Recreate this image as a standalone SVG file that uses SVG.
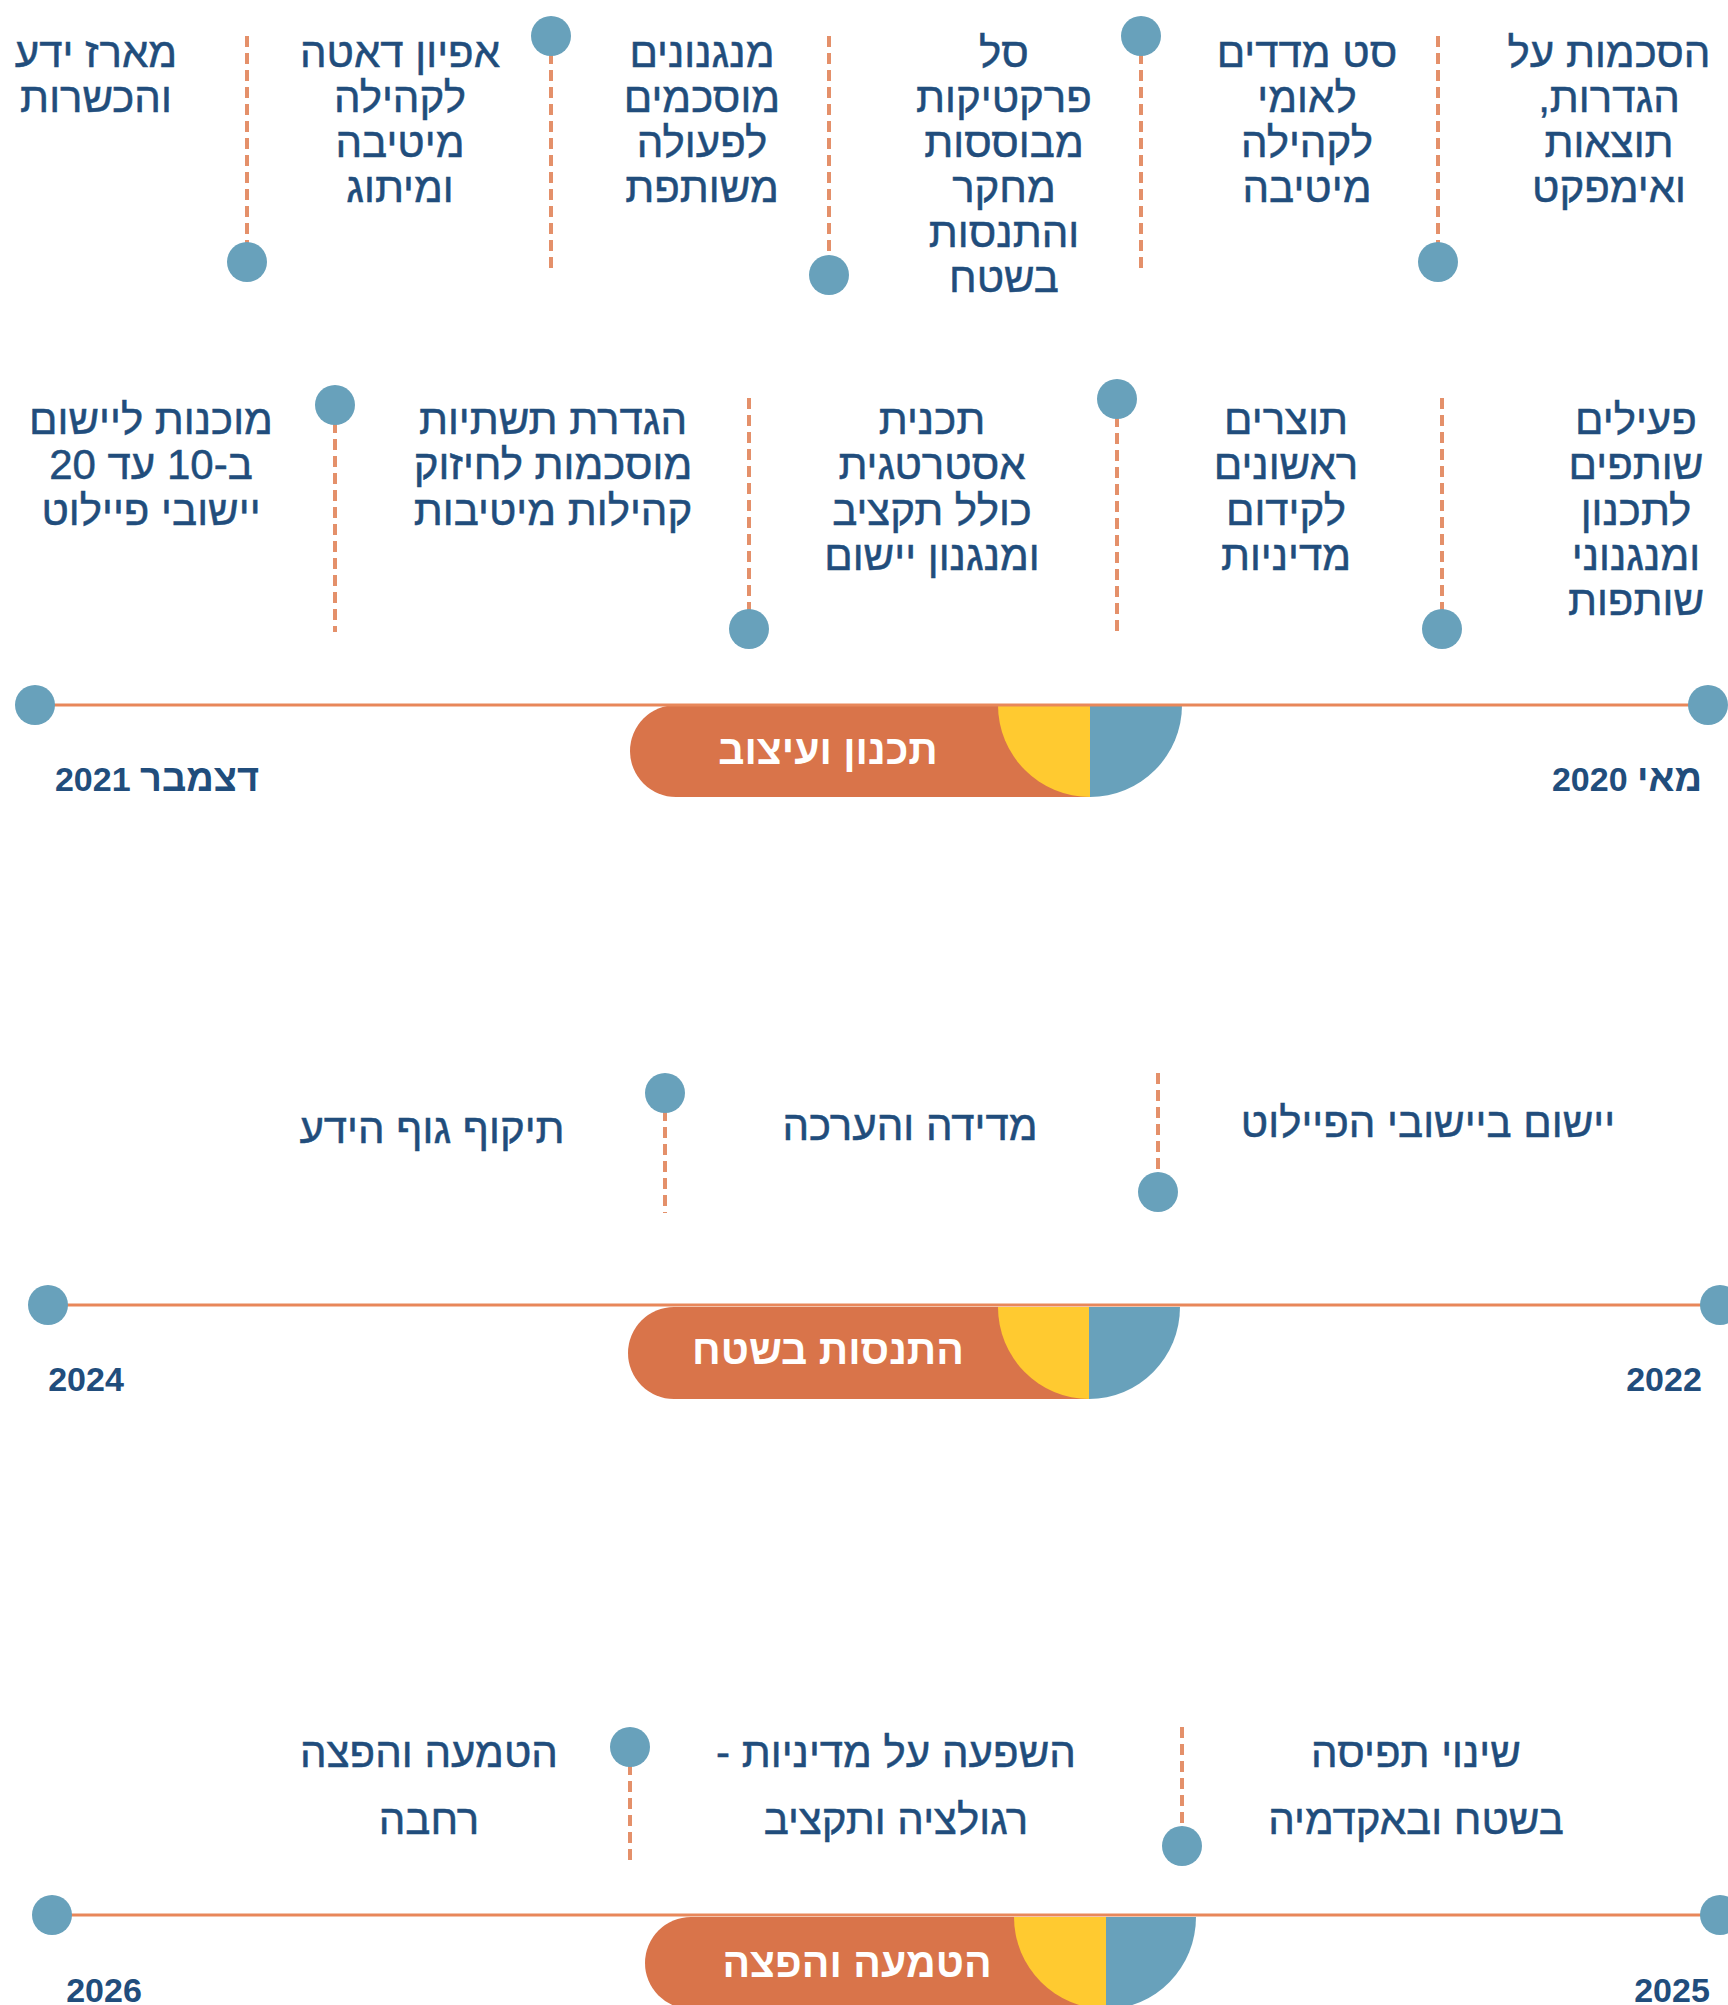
<svg xmlns="http://www.w3.org/2000/svg" width="1728" height="2005" viewBox="0 0 1728 2005">
<style>
.t{font-family:"Liberation Sans","DejaVu Sans",sans-serif;font-size:42px;fill:#214d7c;stroke:#214d7c;stroke-width:0.5;text-anchor:middle;direction:rtl}
.d{font-family:"Liberation Sans","DejaVu Sans",sans-serif;font-size:34px;font-weight:bold;fill:#214d7c;text-anchor:middle;direction:rtl}
.h{font-size:38px}
.p{font-family:"Liberation Sans","DejaVu Sans",sans-serif;font-size:41px;font-weight:bold;fill:#ffffff;text-anchor:middle;direction:rtl}
.dot{fill:#68a1bb}
.stem{stroke:#e4906a;stroke-width:4;stroke-dasharray:11 6;fill:none}
.tl{stroke:#e8875a;stroke-width:3;fill:none}
.or{fill:#d9744a}.ye{fill:#ffca30}.bl{fill:#68a1bb}
</style>
<rect width="1728" height="2005" fill="#ffffff"/>

<g id="connectors">
  <line class="stem" x1="247" y1="36" x2="247" y2="244"/>
  <line class="stem" x1="551" y1="36" x2="551" y2="269"/>
  <line class="stem" x1="829" y1="36" x2="829" y2="256"/>
  <line class="stem" x1="1141" y1="36" x2="1141" y2="269"/>
  <line class="stem" x1="1438" y1="36" x2="1438" y2="244"/>
  <line class="stem" x1="335" y1="405" x2="335" y2="632"/>
  <line class="stem" x1="749" y1="398" x2="749" y2="612"/>
  <line class="stem" x1="1117" y1="399" x2="1117" y2="632"/>
  <line class="stem" x1="1442" y1="398" x2="1442" y2="612"/>
  <line class="stem" x1="1158" y1="1073" x2="1158" y2="1175"/>
  <line class="stem" x1="665" y1="1093" x2="665" y2="1213"/>
  <line class="stem" x1="1182" y1="1727" x2="1182" y2="1830"/>
  <line class="stem" x1="630" y1="1747" x2="630" y2="1866"/>
</g>

<g id="phase1">
  <g id="phase1-bar">
    <path class="or" d="M1090,705 L676,705 A46,46 0 0 0 676,797 L1090,797 Z"/>
    <path class="ye" d="M1090,705 L998,705 A92,92 0 0 0 1090,797 Z"/>
    <path class="bl" d="M1090,705 L1182,705 A92,92 0 0 1 1090,797 Z"/>
    <text class="p" x="828" y="764">תכנון ועיצוב</text>
  </g>
  <line class="tl" x1="35" y1="705" x2="1708" y2="705"/>
  <circle class="dot" cx="35" cy="705" r="20"/>
  <circle class="dot" cx="1708" cy="705" r="20"/>
  <text class="d" x="157" y="791"><tspan class="h">דצמבר</tspan> 2021</text>
  <text class="d" x="1627" y="791"><tspan class="h">מאי</tspan> 2020</text>
</g>

<g id="m1">
  <circle class="dot" cx="247" cy="262" r="20"/>
  <text class="t" x="96" y="67">מארז ידע</text>
  <text class="t" x="96" y="112">והכשרות</text>
</g>
<g id="m2">
  <circle class="dot" cx="551" cy="36" r="20"/>
  <text class="t" x="400" y="67">אפיון דאטה</text>
  <text class="t" x="400" y="112">לקהילה</text>
  <text class="t" x="400" y="157">מיטיבה</text>
  <text class="t" x="400" y="202">ומיתוג</text>
</g>
<g id="m3">
  <circle class="dot" cx="829" cy="275" r="20"/>
  <text class="t" x="702" y="67">מנגנונים</text>
  <text class="t" x="702" y="112">מוסכמים</text>
  <text class="t" x="702" y="157">לפעולה</text>
  <text class="t" x="702" y="202">משותפת</text>
</g>
<g id="m4">
  <circle class="dot" cx="1141" cy="36" r="20"/>
  <text class="t" x="1004" y="67">סל</text>
  <text class="t" x="1004" y="112">פרקטיקות</text>
  <text class="t" x="1004" y="157">מבוססות</text>
  <text class="t" x="1004" y="202">מחקר</text>
  <text class="t" x="1004" y="247">והתנסות</text>
  <text class="t" x="1004" y="292">בשטח</text>
</g>
<g id="m5">
  <circle class="dot" cx="1438" cy="262" r="20"/>
  <text class="t" x="1307" y="67">סט מדדים</text>
  <text class="t" x="1307" y="112">לאומי</text>
  <text class="t" x="1307" y="157">לקהילה</text>
  <text class="t" x="1307" y="202">מיטיבה</text>
</g>
<g id="m6">
  <text class="t" x="1609" y="67">הסכמות על</text>
  <text class="t" x="1609" y="112">הגדרות,</text>
  <text class="t" x="1609" y="157">תוצאות</text>
  <text class="t" x="1609" y="202">ואימפקט</text>
</g>

<g id="m7">
  <circle class="dot" cx="335" cy="405" r="20"/>
  <text class="t" x="151" y="434">מוכנות ליישום</text>
  <text class="t" x="151" y="479">ב-10 עד 20</text>
  <text class="t" x="151" y="525">יישובי פיילוט</text>
</g>
<g id="m8">
  <circle class="dot" cx="749" cy="629" r="20"/>
  <text class="t" x="553" y="434">הגדרת תשתיות</text>
  <text class="t" x="553" y="479">מוסכמות לחיזוק</text>
  <text class="t" x="553" y="525">קהילות מיטיבות</text>
</g>
<g id="m9">
  <circle class="dot" cx="1117" cy="399" r="20"/>
  <text class="t" x="932" y="434">תכנית</text>
  <text class="t" x="932" y="479">אסטרטגית</text>
  <text class="t" x="932" y="525">כולל תקציב</text>
  <text class="t" x="932" y="570">ומנגנון יישום</text>
</g>
<g id="m10">
  <circle class="dot" cx="1442" cy="629" r="20"/>
  <text class="t" x="1286" y="434">תוצרים</text>
  <text class="t" x="1286" y="479">ראשונים</text>
  <text class="t" x="1286" y="525">לקידום</text>
  <text class="t" x="1286" y="570">מדיניות</text>
</g>
<g id="m11">
  <text class="t" x="1636" y="434">פעילים</text>
  <text class="t" x="1636" y="479">שותפים</text>
  <text class="t" x="1636" y="525">לתכנון</text>
  <text class="t" x="1636" y="570">ומנגנוני</text>
  <text class="t" x="1636" y="615">שותפות</text>
</g>

<g id="phase2">
  <g id="phase2-bar">
    <path class="or" d="M1089,1307 L674,1307 A46,46 0 0 0 674,1399 L1089,1399 Z"/>
    <path class="ye" d="M1089,1307 L998,1307 A91,92 0 0 0 1089,1399 Z"/>
    <path class="bl" d="M1089,1307 L1180,1307 A91,92 0 0 1 1089,1399 Z"/>
    <text class="p" x="828" y="1364">התנסות בשטח</text>
  </g>
  <line class="tl" x1="48" y1="1305" x2="1720" y2="1305"/>
  <circle class="dot" cx="48" cy="1305" r="20"/>
  <circle class="dot" cx="1720" cy="1305" r="20"/>
  <text class="d" x="86" y="1391">2024</text>
  <text class="d" x="1664" y="1391">2022</text>
</g>
<g id="m12">
  <circle class="dot" cx="1158" cy="1192" r="20"/>
  <text class="t" x="1428" y="1137">יישום ביישובי הפיילוט</text>
</g>
<g id="m13">
  <circle class="dot" cx="665" cy="1093" r="20"/>
  <text class="t" x="910" y="1140">מדידה והערכה</text>
</g>
<g id="m14">
  <text class="t" x="432" y="1143">תיקוף גוף הידע</text>
</g>

<g id="phase3">
  <g id="phase3-bar">
    <path class="or" d="M1106,1917 L691,1917 A46,46 0 0 0 691,2009 L1106,2009 Z"/>
    <path class="ye" d="M1106,1917 L1014,1917 A92,92 0 0 0 1106,2009 Z"/>
    <path class="bl" d="M1106,1917 L1196,1917 A90,92 0 0 1 1106,2009 Z"/>
    <text class="p" x="857" y="1977">הטמעה והפצה</text>
  </g>
  <line class="tl" x1="52" y1="1915" x2="1720" y2="1915"/>
  <circle class="dot" cx="52" cy="1915" r="20"/>
  <circle class="dot" cx="1720" cy="1915" r="20"/>
  <text class="d" x="104" y="2002">2026</text>
  <text class="d" x="1672" y="2002">2025</text>
</g>
<g id="m15">
  <circle class="dot" cx="1182" cy="1846" r="20"/>
  <text class="t" x="1416" y="1767">שינוי תפיסה</text>
  <text class="t" x="1416" y="1834">בשטח ובאקדמיה</text>
</g>
<g id="m16">
  <circle class="dot" cx="630" cy="1747" r="20"/>
  <text class="t" x="896" y="1767">השפעה על מדיניות -</text>
  <text class="t" x="896" y="1834">רגולציה ותקציב</text>
</g>
<g id="m17">
  <text class="t" x="429" y="1767">הטמעה והפצה</text>
  <text class="t" x="429" y="1834">רחבה</text>
</g>
</svg>
